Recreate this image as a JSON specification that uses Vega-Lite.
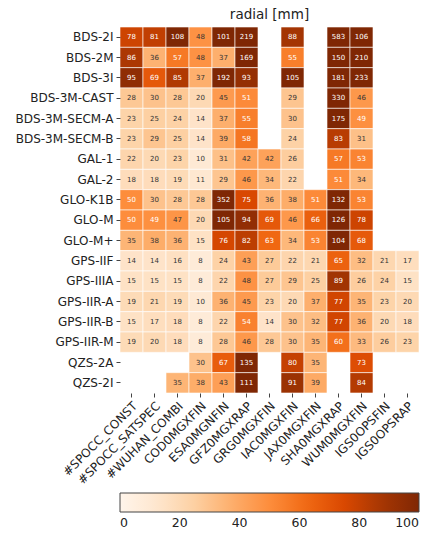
{
"$schema": "https://vega.github.io/schema/vega-lite/v6.json",
"autosize": {"type": "none"},
"padding": {"left": 120, "top": 27, "right": 11, "bottom": 143},
"width": 299,
"height": 366,
"title": {"text": "radial [mm]", "fontSize": 13.5, "fontWeight": "normal", "font": "DejaVu Sans", "color": "#222", "offset": 5},
"config": {"view": {"stroke": null}, "font": "DejaVu Sans"},
"datasets": {
"cells": [
{"s":"BDS-2I","c":"#SPOCC_CONST","v":78},{"s":"BDS-2I","c":"#SPOCC_SATSPEC","v":81},{"s":"BDS-2I","c":"#WUHAN_COMBI","v":108},{"s":"BDS-2I","c":"COD0MGXFIN","v":48},{"s":"BDS-2I","c":"ESA0MGNFIN","v":101},{"s":"BDS-2I","c":"GFZ0MGXRAP","v":219},{"s":"BDS-2I","c":"IAC0MGXFIN","v":88},{"s":"BDS-2I","c":"SHA0MGXRAP","v":583},{"s":"BDS-2I","c":"WUM0MGXFIN","v":106},
{"s":"BDS-2M","c":"#SPOCC_CONST","v":86},{"s":"BDS-2M","c":"#SPOCC_SATSPEC","v":36},{"s":"BDS-2M","c":"#WUHAN_COMBI","v":57},{"s":"BDS-2M","c":"COD0MGXFIN","v":48},{"s":"BDS-2M","c":"ESA0MGNFIN","v":37},{"s":"BDS-2M","c":"GFZ0MGXRAP","v":169},{"s":"BDS-2M","c":"IAC0MGXFIN","v":55},{"s":"BDS-2M","c":"SHA0MGXRAP","v":150},{"s":"BDS-2M","c":"WUM0MGXFIN","v":210},
{"s":"BDS-3I","c":"#SPOCC_CONST","v":95},{"s":"BDS-3I","c":"#SPOCC_SATSPEC","v":69},{"s":"BDS-3I","c":"#WUHAN_COMBI","v":85},{"s":"BDS-3I","c":"COD0MGXFIN","v":37},{"s":"BDS-3I","c":"ESA0MGNFIN","v":192},{"s":"BDS-3I","c":"GFZ0MGXRAP","v":93},{"s":"BDS-3I","c":"IAC0MGXFIN","v":105},{"s":"BDS-3I","c":"SHA0MGXRAP","v":181},{"s":"BDS-3I","c":"WUM0MGXFIN","v":233},
{"s":"BDS-3M-CAST","c":"#SPOCC_CONST","v":28},{"s":"BDS-3M-CAST","c":"#SPOCC_SATSPEC","v":30},{"s":"BDS-3M-CAST","c":"#WUHAN_COMBI","v":28},{"s":"BDS-3M-CAST","c":"COD0MGXFIN","v":20},{"s":"BDS-3M-CAST","c":"ESA0MGNFIN","v":45},{"s":"BDS-3M-CAST","c":"GFZ0MGXRAP","v":51},{"s":"BDS-3M-CAST","c":"IAC0MGXFIN","v":29},{"s":"BDS-3M-CAST","c":"SHA0MGXRAP","v":330},{"s":"BDS-3M-CAST","c":"WUM0MGXFIN","v":46},
{"s":"BDS-3M-SECM-A","c":"#SPOCC_CONST","v":23},{"s":"BDS-3M-SECM-A","c":"#SPOCC_SATSPEC","v":25},{"s":"BDS-3M-SECM-A","c":"#WUHAN_COMBI","v":24},{"s":"BDS-3M-SECM-A","c":"COD0MGXFIN","v":14},{"s":"BDS-3M-SECM-A","c":"ESA0MGNFIN","v":37},{"s":"BDS-3M-SECM-A","c":"GFZ0MGXRAP","v":55},{"s":"BDS-3M-SECM-A","c":"IAC0MGXFIN","v":30},{"s":"BDS-3M-SECM-A","c":"SHA0MGXRAP","v":175},{"s":"BDS-3M-SECM-A","c":"WUM0MGXFIN","v":49},
{"s":"BDS-3M-SECM-B","c":"#SPOCC_CONST","v":23},{"s":"BDS-3M-SECM-B","c":"#SPOCC_SATSPEC","v":29},{"s":"BDS-3M-SECM-B","c":"#WUHAN_COMBI","v":25},{"s":"BDS-3M-SECM-B","c":"COD0MGXFIN","v":14},{"s":"BDS-3M-SECM-B","c":"ESA0MGNFIN","v":39},{"s":"BDS-3M-SECM-B","c":"GFZ0MGXRAP","v":58},{"s":"BDS-3M-SECM-B","c":"IAC0MGXFIN","v":24},{"s":"BDS-3M-SECM-B","c":"SHA0MGXRAP","v":83},{"s":"BDS-3M-SECM-B","c":"WUM0MGXFIN","v":31},
{"s":"GAL-1","c":"#SPOCC_CONST","v":22},{"s":"GAL-1","c":"#SPOCC_SATSPEC","v":20},{"s":"GAL-1","c":"#WUHAN_COMBI","v":23},{"s":"GAL-1","c":"COD0MGXFIN","v":10},{"s":"GAL-1","c":"ESA0MGNFIN","v":31},{"s":"GAL-1","c":"GFZ0MGXRAP","v":42},{"s":"GAL-1","c":"GRG0MGXFIN","v":42},{"s":"GAL-1","c":"IAC0MGXFIN","v":26},{"s":"GAL-1","c":"SHA0MGXRAP","v":57},{"s":"GAL-1","c":"WUM0MGXFIN","v":53},
{"s":"GAL-2","c":"#SPOCC_CONST","v":18},{"s":"GAL-2","c":"#SPOCC_SATSPEC","v":18},{"s":"GAL-2","c":"#WUHAN_COMBI","v":19},{"s":"GAL-2","c":"COD0MGXFIN","v":11},{"s":"GAL-2","c":"ESA0MGNFIN","v":29},{"s":"GAL-2","c":"GFZ0MGXRAP","v":46},{"s":"GAL-2","c":"GRG0MGXFIN","v":34},{"s":"GAL-2","c":"IAC0MGXFIN","v":22},{"s":"GAL-2","c":"SHA0MGXRAP","v":51},{"s":"GAL-2","c":"WUM0MGXFIN","v":34},
{"s":"GLO-K1B","c":"#SPOCC_CONST","v":50},{"s":"GLO-K1B","c":"#SPOCC_SATSPEC","v":30},{"s":"GLO-K1B","c":"#WUHAN_COMBI","v":28},{"s":"GLO-K1B","c":"COD0MGXFIN","v":28},{"s":"GLO-K1B","c":"ESA0MGNFIN","v":352},{"s":"GLO-K1B","c":"GFZ0MGXRAP","v":75},{"s":"GLO-K1B","c":"GRG0MGXFIN","v":36},{"s":"GLO-K1B","c":"IAC0MGXFIN","v":38},{"s":"GLO-K1B","c":"JAX0MGXFIN","v":51},{"s":"GLO-K1B","c":"SHA0MGXRAP","v":132},{"s":"GLO-K1B","c":"WUM0MGXFIN","v":53},
{"s":"GLO-M","c":"#SPOCC_CONST","v":50},{"s":"GLO-M","c":"#SPOCC_SATSPEC","v":49},{"s":"GLO-M","c":"#WUHAN_COMBI","v":47},{"s":"GLO-M","c":"COD0MGXFIN","v":20},{"s":"GLO-M","c":"ESA0MGNFIN","v":105},{"s":"GLO-M","c":"GFZ0MGXRAP","v":94},{"s":"GLO-M","c":"GRG0MGXFIN","v":69},{"s":"GLO-M","c":"IAC0MGXFIN","v":46},{"s":"GLO-M","c":"JAX0MGXFIN","v":66},{"s":"GLO-M","c":"SHA0MGXRAP","v":126},{"s":"GLO-M","c":"WUM0MGXFIN","v":78},
{"s":"GLO-M+","c":"#SPOCC_CONST","v":35},{"s":"GLO-M+","c":"#SPOCC_SATSPEC","v":38},{"s":"GLO-M+","c":"#WUHAN_COMBI","v":36},{"s":"GLO-M+","c":"COD0MGXFIN","v":15},{"s":"GLO-M+","c":"ESA0MGNFIN","v":76},{"s":"GLO-M+","c":"GFZ0MGXRAP","v":82},{"s":"GLO-M+","c":"GRG0MGXFIN","v":63},{"s":"GLO-M+","c":"IAC0MGXFIN","v":34},{"s":"GLO-M+","c":"JAX0MGXFIN","v":53},{"s":"GLO-M+","c":"SHA0MGXRAP","v":104},{"s":"GLO-M+","c":"WUM0MGXFIN","v":68},
{"s":"GPS-IIF","c":"#SPOCC_CONST","v":14},{"s":"GPS-IIF","c":"#SPOCC_SATSPEC","v":14},{"s":"GPS-IIF","c":"#WUHAN_COMBI","v":16},{"s":"GPS-IIF","c":"COD0MGXFIN","v":8},{"s":"GPS-IIF","c":"ESA0MGNFIN","v":24},{"s":"GPS-IIF","c":"GFZ0MGXRAP","v":43},{"s":"GPS-IIF","c":"GRG0MGXFIN","v":27},{"s":"GPS-IIF","c":"IAC0MGXFIN","v":22},{"s":"GPS-IIF","c":"JAX0MGXFIN","v":21},{"s":"GPS-IIF","c":"SHA0MGXRAP","v":65},{"s":"GPS-IIF","c":"WUM0MGXFIN","v":32},{"s":"GPS-IIF","c":"IGS0OPSFIN","v":21},{"s":"GPS-IIF","c":"IGS0OPSRAP","v":17},
{"s":"GPS-IIIA","c":"#SPOCC_CONST","v":15},{"s":"GPS-IIIA","c":"#SPOCC_SATSPEC","v":15},{"s":"GPS-IIIA","c":"#WUHAN_COMBI","v":15},{"s":"GPS-IIIA","c":"COD0MGXFIN","v":8},{"s":"GPS-IIIA","c":"ESA0MGNFIN","v":22},{"s":"GPS-IIIA","c":"GFZ0MGXRAP","v":48},{"s":"GPS-IIIA","c":"GRG0MGXFIN","v":27},{"s":"GPS-IIIA","c":"IAC0MGXFIN","v":29},{"s":"GPS-IIIA","c":"JAX0MGXFIN","v":25},{"s":"GPS-IIIA","c":"SHA0MGXRAP","v":89},{"s":"GPS-IIIA","c":"WUM0MGXFIN","v":26},{"s":"GPS-IIIA","c":"IGS0OPSFIN","v":24},{"s":"GPS-IIIA","c":"IGS0OPSRAP","v":15},
{"s":"GPS-IIR-A","c":"#SPOCC_CONST","v":19},{"s":"GPS-IIR-A","c":"#SPOCC_SATSPEC","v":21},{"s":"GPS-IIR-A","c":"#WUHAN_COMBI","v":19},{"s":"GPS-IIR-A","c":"COD0MGXFIN","v":10},{"s":"GPS-IIR-A","c":"ESA0MGNFIN","v":36},{"s":"GPS-IIR-A","c":"GFZ0MGXRAP","v":45},{"s":"GPS-IIR-A","c":"GRG0MGXFIN","v":23},{"s":"GPS-IIR-A","c":"IAC0MGXFIN","v":20},{"s":"GPS-IIR-A","c":"JAX0MGXFIN","v":37},{"s":"GPS-IIR-A","c":"SHA0MGXRAP","v":77},{"s":"GPS-IIR-A","c":"WUM0MGXFIN","v":35},{"s":"GPS-IIR-A","c":"IGS0OPSFIN","v":23},{"s":"GPS-IIR-A","c":"IGS0OPSRAP","v":20},
{"s":"GPS-IIR-B","c":"#SPOCC_CONST","v":15},{"s":"GPS-IIR-B","c":"#SPOCC_SATSPEC","v":17},{"s":"GPS-IIR-B","c":"#WUHAN_COMBI","v":18},{"s":"GPS-IIR-B","c":"COD0MGXFIN","v":8},{"s":"GPS-IIR-B","c":"ESA0MGNFIN","v":22},{"s":"GPS-IIR-B","c":"GFZ0MGXRAP","v":54},{"s":"GPS-IIR-B","c":"GRG0MGXFIN","v":14},{"s":"GPS-IIR-B","c":"IAC0MGXFIN","v":30},{"s":"GPS-IIR-B","c":"JAX0MGXFIN","v":32},{"s":"GPS-IIR-B","c":"SHA0MGXRAP","v":77},{"s":"GPS-IIR-B","c":"WUM0MGXFIN","v":36},{"s":"GPS-IIR-B","c":"IGS0OPSFIN","v":20},{"s":"GPS-IIR-B","c":"IGS0OPSRAP","v":18},
{"s":"GPS-IIR-M","c":"#SPOCC_CONST","v":19},{"s":"GPS-IIR-M","c":"#SPOCC_SATSPEC","v":20},{"s":"GPS-IIR-M","c":"#WUHAN_COMBI","v":18},{"s":"GPS-IIR-M","c":"COD0MGXFIN","v":8},{"s":"GPS-IIR-M","c":"ESA0MGNFIN","v":28},{"s":"GPS-IIR-M","c":"GFZ0MGXRAP","v":46},{"s":"GPS-IIR-M","c":"GRG0MGXFIN","v":28},{"s":"GPS-IIR-M","c":"IAC0MGXFIN","v":30},{"s":"GPS-IIR-M","c":"JAX0MGXFIN","v":35},{"s":"GPS-IIR-M","c":"SHA0MGXRAP","v":60},{"s":"GPS-IIR-M","c":"WUM0MGXFIN","v":33},{"s":"GPS-IIR-M","c":"IGS0OPSFIN","v":26},{"s":"GPS-IIR-M","c":"IGS0OPSRAP","v":23},
{"s":"QZS-2A","c":"COD0MGXFIN","v":30},{"s":"QZS-2A","c":"ESA0MGNFIN","v":67},{"s":"QZS-2A","c":"GFZ0MGXRAP","v":135},{"s":"QZS-2A","c":"IAC0MGXFIN","v":80},{"s":"QZS-2A","c":"JAX0MGXFIN","v":35},{"s":"QZS-2A","c":"WUM0MGXFIN","v":73},
{"s":"QZS-2I","c":"#WUHAN_COMBI","v":35},{"s":"QZS-2I","c":"COD0MGXFIN","v":38},{"s":"QZS-2I","c":"ESA0MGNFIN","v":43},{"s":"QZS-2I","c":"GFZ0MGXRAP","v":111},{"s":"QZS-2I","c":"IAC0MGXFIN","v":91},{"s":"QZS-2I","c":"JAX0MGXFIN","v":39},{"s":"QZS-2I","c":"WUM0MGXFIN","v":84}
]
},
"data": {"name": "cells"},
"encoding": {
"x": {"field": "c", "type": "nominal", "title": null,
"scale": {"domain": ["#SPOCC_CONST","#SPOCC_SATSPEC","#WUHAN_COMBI","COD0MGXFIN","ESA0MGNFIN","GFZ0MGXRAP","GRG0MGXFIN","IAC0MGXFIN","JAX0MGXFIN","SHA0MGXRAP","WUM0MGXFIN","IGS0OPSFIN","IGS0OPSRAP"], "paddingInner": 0, "paddingOuter": 0},
"axis": {"labelAngle": -45, "labelAlign": "right", "labelBaseline": "top", "labelFontSize": 12, "labelColor": "#222", "domain": false, "tickColor": "#444", "tickSize": 4, "labelPadding": 3, "labelLimit": 200}},
"y": {"field": "s", "type": "nominal", "title": null,
"scale": {"domain": ["BDS-2I","BDS-2M","BDS-3I","BDS-3M-CAST","BDS-3M-SECM-A","BDS-3M-SECM-B","GAL-1","GAL-2","GLO-K1B","GLO-M","GLO-M+","GPS-IIF","GPS-IIIA","GPS-IIR-A","GPS-IIR-B","GPS-IIR-M","QZS-2A","QZS-2I"], "paddingInner": 0, "paddingOuter": 0},
"axis": {"labelFontSize": 12, "labelColor": "#222", "domain": false, "tickColor": "#444", "tickSize": 4, "labelPadding": 3}}
},
"layer": [
{"mark": {"type": "rect", "stroke": "white", "strokeWidth": 0.6},
 "encoding": {"color": {"field": "v", "type": "quantitative", "scale": {"range": ["#fff5eb","#fee6ce","#fdd0a2","#fdae6b","#fd8d3c","#f16913","#d94801","#a63603","#7f2704"], "interpolate": "rgb", "domain": [0, 100], "clamp": true},
  "legend": {"orient": "none", "direction": "horizontal", "legendX": 0, "legendY": 466, "gradientLength": 299, "gradientThickness": 19, "title": null, "values": [0,20,40,60,80,100], "labelFontSize": 12.5, "labelColor": "#222", "labelAlign": "center", "gradientStrokeColor": "#444", "gradientStrokeWidth": 1, "labelOffset": 5}}}},
{"mark": {"type": "text", "fontSize": 7, "baseline": "middle", "align": "center"},
 "encoding": {"text": {"field": "v", "type": "quantitative"},
  "color": {"condition": {"test": "datum.v >= 49", "value": "white"}, "value": "#333"}}}
]
}
